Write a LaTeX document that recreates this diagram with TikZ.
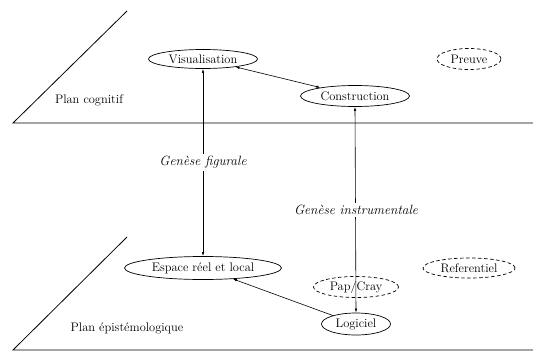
\documentclass[tikz,border=0pt]{standalone}
\usetikzlibrary{shapes.geometric,arrows.meta}
\begin{document}
\begin{tikzpicture}[x=1pt,y=-1pt,
  font=\fontsize{12.4}{14}\selectfont,
  ell/.style={draw,ellipse,inner sep=0pt,line width=0.7pt},
  dell/.style={ell,dashed,dash pattern=on 3.5pt off 2.5pt},
  conn/.style={line width=0.6pt},
  tip/.style={-{Latex[length=4pt,width=2.5pt]}},
  dtip/.style={{Latex[length=4pt,width=2.5pt]}-{Latex[length=4pt,width=2.5pt]}},
  plane/.style={line width=0.8pt},
  lab/.style={fill=white,inner sep=2pt,font=\fontsize{13.4}{15}\selectfont\itshape}]
\useasboundingbox (0,0) rectangle (533,351);
% planes
\coordinate (c1) at (13,123);
\coordinate (c2) at (127,11);
\coordinate (c3) at (533,123);
\coordinate (e1) at (13,350);
\coordinate (e2) at (127,237);
\coordinate (e3) at (533,350);
\draw[plane] (c2) -- (c1) -- (c3);
\draw[plane] (e2) -- (e1) -- (e3);
\node (pc) at (89,100) {Plan cognitif};
\node (pe) at (127,328) {Plan épistémologique};
% nodes
\node[ell,minimum width=109,minimum height=19] (vis) at (203,59) {Visualisation};
\node[ell,minimum width=109,minimum height=21] (con) at (355,96) {Construction};
\node[dell,minimum width=64,minimum height=21] (pre) at (469,59) {Preuve};
\node[ell,minimum width=157,minimum height=23] (esp) at (203,268) {Espace réel et local};
\node[dell,minimum width=85,minimum height=21] (pap) at (356,287) {Pap/Cray};
\node[dell,minimum width=92,minimum height=20] (ref) at (469,268) {Referentiel};
\node[ell,minimum width=69,minimum height=22] (log) at (356,324) {Logiciel};
% connectors
\draw[conn,dtip] (vis) -- (con);
\draw[conn,dtip] (vis.south) -- node[lab,pos=0.5] (gf) {Genèse figurale} (esp.north);
\draw[conn,dtip] (con.south) -- (log.north);
\node[lab] (gi) at (356,210) {Genèse instrumentale};
\draw[conn,tip] (log) -- (esp);
\end{tikzpicture}
\end{document}
